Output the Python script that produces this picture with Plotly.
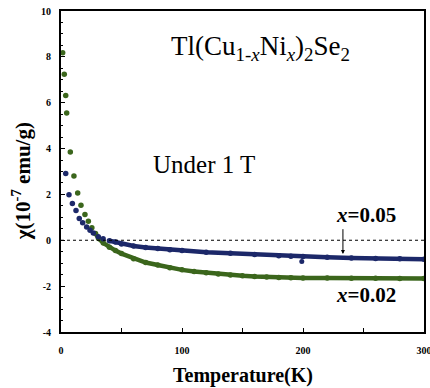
import plotly.graph_objects as go

# x = 0.02 series (green)
T_002 = [1.4, 2.7, 3.9, 4.7, 7.7, 10.7, 13.8, 16.5, 19.8, 22.6, 25.5, 28.5, 31, 35, 40, 45, 50,
         60, 70, 80, 90, 100, 110, 120, 130, 140, 150, 160, 170, 180, 190, 200, 220, 240, 260, 280, 300]
chi_002 = [8.18, 7.24, 6.32, 5.55, 3.85, 2.8, 2.06, 1.53, 1.13, 0.83, 0.55, 0.3, 0.08, -0.12, -0.3, -0.45, -0.58,
           -0.8, -0.97, -1.08, -1.2, -1.29, -1.36, -1.42, -1.47, -1.51, -1.55, -1.58, -1.6, -1.62, -1.63, -1.64,
           -1.65, -1.66, -1.66, -1.67, -1.67]

# x = 0.05 series (navy); one stray point near 199 K
T_005 = [3.9, 6.6, 9.4, 12.4, 15.1, 17.9, 21.2, 24, 26.7, 30.8, 34.8, 40, 45, 50, 60, 70, 80, 90, 100,
         120, 140, 160, 180, 190, 200, 220, 240, 260, 280, 300]
chi_005 = [2.91, 1.99, 1.6, 1.3, 0.95, 0.77, 0.58, 0.44, 0.32, 0.15, 0.07, -0.02, -0.08, -0.16, -0.25, -0.31,
           -0.36, -0.41, -0.45, -0.52, -0.57, -0.62, -0.67, -0.70, -0.71, -0.74, -0.77, -0.79, -0.81, -0.83]
T_005_stray = [199]
chi_005_stray = [-0.93]

x_ticks = [0, 100, 200, 300]
y_ticks = [-4, -2, 0, 2, 4, 6, 8, 10]

GREEN = "#3b661c"
NAVY = "#1c2869"
LINE_START = 11  # index from which the points are dense enough to form a band

serif = "Liberation Serif"

fig = go.Figure()
for T, chi, col in [(T_002, chi_002, GREEN), (T_005, chi_005, NAVY)]:
    fig.add_trace(go.Scatter(x=T[LINE_START:], y=chi[LINE_START:], mode="lines",
                             line=dict(color=col, width=4.5), hoverinfo="skip"))
    fig.add_trace(go.Scatter(x=T, y=chi, mode="markers",
                             marker=dict(color=col, size=5.5)))
fig.add_trace(go.Scatter(x=T_005_stray, y=chi_005_stray, mode="markers",
                         marker=dict(color=NAVY, size=5)))

# zero reference line
fig.add_trace(go.Scatter(x=[0, 300], y=[0, 0], mode="lines",
                         line=dict(color="black", width=1.1, dash="dot"), hoverinfo="skip"))

fig.update_layout(
    width=430, height=388,
    margin=dict(l=61, r=6, t=11, b=56, autoexpand=False),
    paper_bgcolor="white", plot_bgcolor="white",
    showlegend=False,
    font=dict(family=serif, color="black"),
    xaxis=dict(range=[0, 300], tickvals=x_ticks, ticktext=[f"<b>{v}</b>" for v in x_ticks],
               ticks="inside", ticklen=4, tickwidth=1.2, tickcolor="black",
               minor=dict(dtick=50, ticks="inside", ticklen=4, tickcolor="black"),
               showline=True, linewidth=1.8, linecolor="black", mirror=True, automargin=False,
               showgrid=False, zeroline=False, tickfont=dict(size=10, family=serif, color="black"),
               ticklabelstandoff=8, ticklabeloverflow="allow"),
    yaxis=dict(range=[-4, 10], tickvals=y_ticks, ticktext=[f"<b>{v}</b>" for v in y_ticks],
               ticks="inside", ticklen=4, tickwidth=1.2, tickcolor="black",
               minor=dict(dtick=0.5, ticks="inside", ticklen=2.5, tickcolor="black"),
               showline=True, linewidth=1.8, linecolor="black", mirror=True, automargin=False,
               showgrid=False, zeroline=False, tickfont=dict(size=10, family=serif, color="black"),
               ticklabelstandoff=6, ticklabeloverflow="allow"),
)

fig.add_annotation(text="<b>Temperature(K)</b>", xref="paper", yref="paper", x=0.5, y=0,
                   yshift=-43, showarrow=False, font=dict(size=20, family=serif),
                   xanchor="center", yanchor="middle")
fig.add_annotation(text="<b>χ(10<sup>-7</sup> emu/g)</b>", xref="paper", yref="paper", x=0, y=0.47,
                   xshift=-40, showarrow=False, textangle=-90, font=dict(size=21, family=serif),
                   xanchor="center", yanchor="middle")
fig.add_annotation(text="Tl(Cu<sub>1-<i>x</i></sub>Ni<sub><i>x</i></sub>)<sub>2</sub>Se<sub>2</sub>",
                   x=165, y=8.4, xref="x", yref="y", showarrow=False, font=dict(size=27, family=serif),
                   xanchor="center", yanchor="middle")
fig.add_annotation(text="Under 1 T", x=118, y=3.3, xref="x", yref="y", showarrow=False,
                   font=dict(size=25, family=serif), xanchor="center", yanchor="middle")
fig.add_annotation(text="<b><i>x</i>=0.05</b>", x=252, y=1.1, xref="x", yref="y", showarrow=False,
                   font=dict(size=21, family=serif), xanchor="center", yanchor="middle")
fig.add_annotation(text="<b><i>x</i>=0.02</b>", x=252, y=-2.4, xref="x", yref="y", showarrow=False,
                   font=dict(size=21, family=serif), xanchor="center", yanchor="middle")
fig.add_annotation(x=233, y=-0.6, ax=233, ay=0.55, xref="x", yref="y", axref="x", ayref="y",
                   text="", showarrow=True, arrowhead=2, arrowsize=0.8, arrowwidth=1, arrowcolor="black")

fig.write_html("out.html")
